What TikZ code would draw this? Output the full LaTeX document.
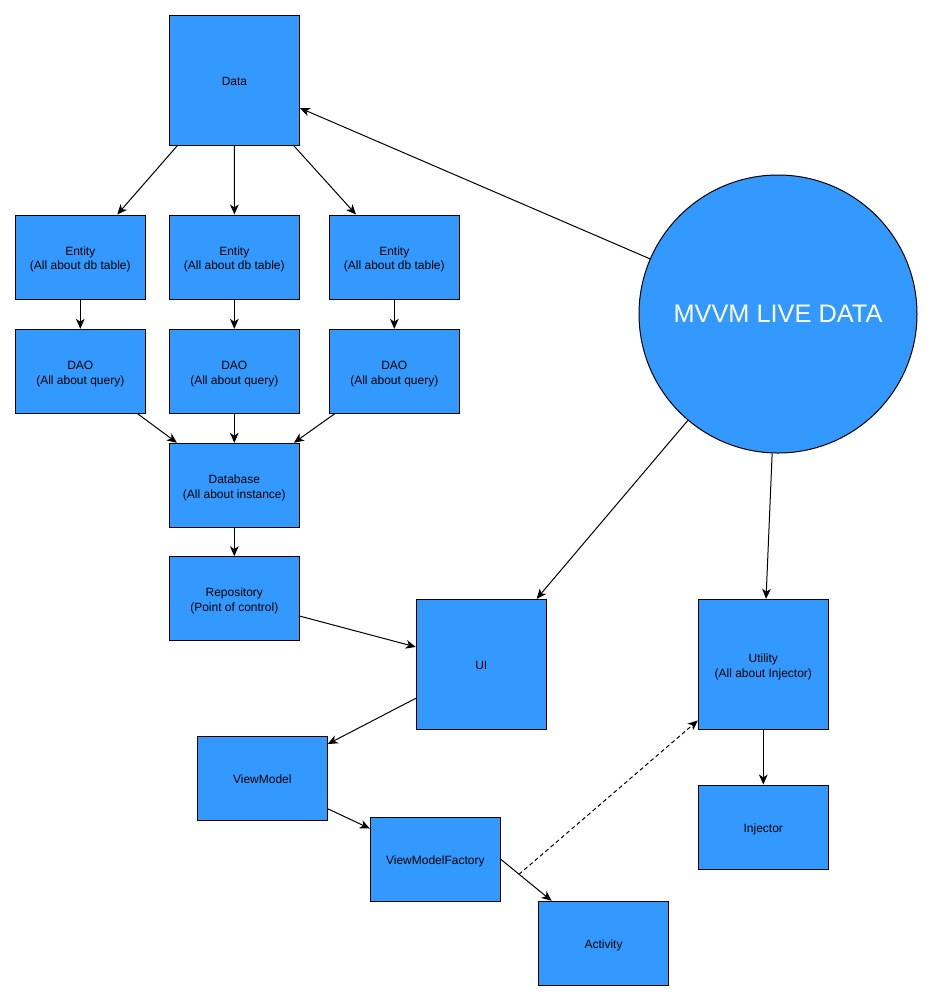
\documentclass[tikz,border=0pt]{standalone}
\usepackage{fontspec}
\setmainfont{Liberation Sans}
\usetikzlibrary{arrows.meta}
\definecolor{boxblue}{HTML}{3399FF}
% box caption: stacked centred lines, set slightly below the geometric middle
\newcommand\boxcaption[1]{\raisebox{-1.9pt}[\height][\depth]{%
  \begin{tabular}{@{}c@{}}#1\end{tabular}}}
\renewcommand\arraystretch{1}
\begin{document}
\begin{tikzpicture}[x=0.75pt,y=-0.75pt,
  box/.style={draw=black, line width=0.75pt, fill=boxblue, inner sep=0pt,
    minimum width=97.5pt, minimum height=63pt,
    font=\fontsize{9}{11}\selectfont},
  bigbox/.style={box, minimum height=97.5pt},
  hub/.style={circle, draw=black, line width=0.75pt, fill=boxblue, inner sep=0pt,
    minimum size=208.5pt, text=white, font=\fontsize{19}{22}\selectfont},
  link/.style={line width=0.75pt, -{Stealth[length=7.5pt, width=6.5pt, inset=2.2pt]}},
  weak/.style={link, dashed, dash pattern=on 3pt off 2.2pt}]
  \useasboundingbox (0,0) rectangle (932,1001);

  % entity / DAO / database chain
  \node[bigbox] (data) at (234.5,80) {\boxcaption{Data}};
  \node[box] (e1) at (80.3,257) {\boxcaption{Entity\\(All about db table)}};
  \node[box] (e2) at (234.3,257) {\boxcaption{Entity\\(All about db table)}};
  \node[box] (e3) at (394.3,257) {\boxcaption{Entity\\(All about db table)}};
  \node[box] (d1) at (80.3,371.3) {\boxcaption{DAO\\(All about query)}};
  \node[box] (d2) at (234.3,371.3) {\boxcaption{DAO\\(All about query)}};
  \node[box] (d3) at (394.3,371.3) {\boxcaption{DAO\\(All about query)}};
  \node[box] (db) at (234.3,485.3) {\boxcaption{Database\\(All about instance)}};
  \node[box] (repo) at (234.3,598.7) {\boxcaption{Repository\\(Point of control)}};

  % presentation side
  \node[bigbox] (ui) at (481.3,664.3) {\boxcaption{UI}};
  \node[box] (vm) at (262.3,778) {\boxcaption{ViewModel}};
  \node[box] (vmf) at (435.3,859.3) {\boxcaption{ViewModelFactory}};
  \node[box] (act) at (603.5,943.3) {\boxcaption{Activity}};
  \node[bigbox] (util) at (763.3,664.3) {\boxcaption{Utility\\(All about Injector)}};
  \node[box] (inj) at (763.3,827) {\boxcaption{Injector}};

  \node[hub] (mvvm) at (778,314) {\boxcaption{MVVM LIVE DATA}};

  % connectors
  \draw[link] (mvvm) -- (data);
  \draw[link] (mvvm) -- (ui);
  \draw[link] (mvvm) -- (util);
  \draw[link] (data) -- (e1);
  \draw[link] (data) -- (e2);
  \draw[link] (data) -- (e3);
  \draw[link] (e1) -- (d1);
  \draw[link] (e2) -- (d2);
  \draw[link] (e3) -- (d3);
  \draw[link] (d1) -- (db);
  \draw[link] (d2) -- (db);
  \draw[link] (d3) -- (db);
  \draw[link] (db) -- (repo);
  \draw[link] (repo) -- (ui);
  \draw[link] (ui) -- (vm);
  \draw[link] (vm) -- (vmf);
  \draw[link] (vmf.east) -- (act) coordinate[pos=0.36] (branch);
  \draw[weak] (branch) -- (util);
  \draw[link] (util) -- (inj);
\end{tikzpicture}
\end{document}
